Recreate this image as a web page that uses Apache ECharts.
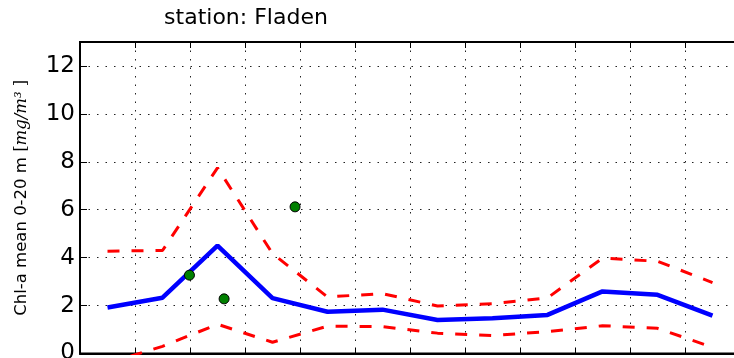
<!DOCTYPE html>
<html>
<head>
<meta charset="utf-8">
<script src="https://cdn.jsdelivr.net/npm/echarts@6/dist/echarts.min.js"></script>
<style>
  html, body { margin: 0; padding: 0; background: #fff; }
  #chart { width: 734px; height: 358px; }
</style>
</head>
<body>
<div id="chart"></div>
<script>
// Monthly climatology of Chl-a, plotted at mid-month (month units, 0..12)
const months = [0.5, 1.5, 2.5, 3.5, 4.5, 5.5, 6.5, 7.5, 8.5, 9.5, 10.5, 11.5];
const meanChl  = [1.92, 2.33, 4.50, 2.31, 1.74, 1.83, 1.40, 1.47, 1.61, 2.59, 2.45, 1.58];
const upperChl = [4.27, 4.30, 7.75, 4.17, 2.36, 2.50, 1.98, 2.08, 2.32, 3.98, 3.85, 2.96];
const lowerChl = [-0.40, 0.30, 1.22, 0.47, 1.14, 1.12, 0.85, 0.75, 0.91, 1.16, 1.05, 0.26];

// Individual observations for the current year
const obsMonth = [1.99, 2.62, 3.91];
const obsChl   = [3.27, 2.28, 6.12];

const yTicks = [0, 2, 4, 6, 8, 10, 12];

const pairs = (xs, ys) => xs.map((x, i) => [x, ys[i]]);

const chart = echarts.init(document.getElementById('chart'), null, { renderer: 'canvas' });

const dotted = { color: '#222', width: 1, type: [1.5, 7] };

chart.setOption({
  animation: false,
  backgroundColor: '#fff',
  graphic: [{
    type: 'text',
    x: 246, y: 18,
    style: {
      text: 'station: Fladen',
      font: '22px "DejaVu Sans"',
      fill: '#000',
      textAlign: 'center',
      textVerticalAlign: 'middle'
    }
  }],
  grid: {
    left: 80, top: 42, width: 660, bottom: 4.5,
    outerBoundsMode: 'none',
    containLabel: false,
    show: true, borderColor: '#000', borderWidth: 2, backgroundColor: 'transparent'
  },
  xAxis: [{
    type: 'value', min: 0, max: 12, interval: 1, position: 'bottom',
    axisLine: { show: true, lineStyle: { color: '#000', width: 2 } },
    axisTick: { show: true, inside: true, length: 6, lineStyle: { color: '#000', width: 1 } },
    axisLabel: { show: false },
    splitLine: { show: true, lineStyle: dotted }
  }, {
    type: 'value', min: 0, max: 12, interval: 1, position: 'top',
    axisLine: { show: true, lineStyle: { color: '#000', width: 2 } },
    axisTick: { show: true, inside: true, length: 6, lineStyle: { color: '#000', width: 1 } },
    axisLabel: { show: false },
    splitLine: { show: false }
  }],
  yAxis: {
    type: 'value', min: 0, max: 13, interval: 2,
    axisLine: { show: true, lineStyle: { color: '#000', width: 2 } },
    axisTick: { show: true, inside: true, length: 7, lineStyle: { color: '#000', width: 1 } },
    axisLabel: {
      show: true, showMaxLabel: false, margin: 5,
      color: '#000', fontSize: 23, fontFamily: 'DejaVu Sans',
      formatter: v => (yTicks.includes(v) ? String(v) : '')
    },
    splitLine: { show: true, lineStyle: dotted },
    name: '{t|Chl-a mean 0-20 m }{b|[}{m|mg/m³}{b| ]}',
    nameLocation: 'middle',
    nameRotate: 90,
    nameGap: 50,
    nameTextStyle: {
      rich: {
        t: { fontSize: 16.5, fontFamily: 'DejaVu Sans', color: '#000' },
        b: { fontSize: 16.5, fontFamily: 'DejaVu Serif', color: '#000' },
        m: { fontSize: 16.5, fontFamily: 'DejaVu Serif', fontStyle: 'italic', color: '#000' }
      }
    }
  },
  series: [{
    type: 'line', data: pairs(months, upperChl), symbol: 'none',
    lineStyle: { color: '#ff0000', width: 3, type: [12, 12] }, z: 2
  }, {
    type: 'line', data: pairs(months, lowerChl), symbol: 'none', clip: true,
    lineStyle: { color: '#ff0000', width: 3, type: [12, 12] }, z: 2
  }, {
    type: 'line', data: pairs(months, meanChl), symbol: 'none',
    lineStyle: { color: '#0000ff', width: 4.5 }, z: 3
  }, {
    type: 'scatter', data: pairs(obsMonth, obsChl), symbol: 'circle', symbolSize: 10,
    itemStyle: { color: '#008000', opacity: 1, borderColor: '#000', borderWidth: 1 }, z: 4
  }]
});
</script>
</body>
</html>
